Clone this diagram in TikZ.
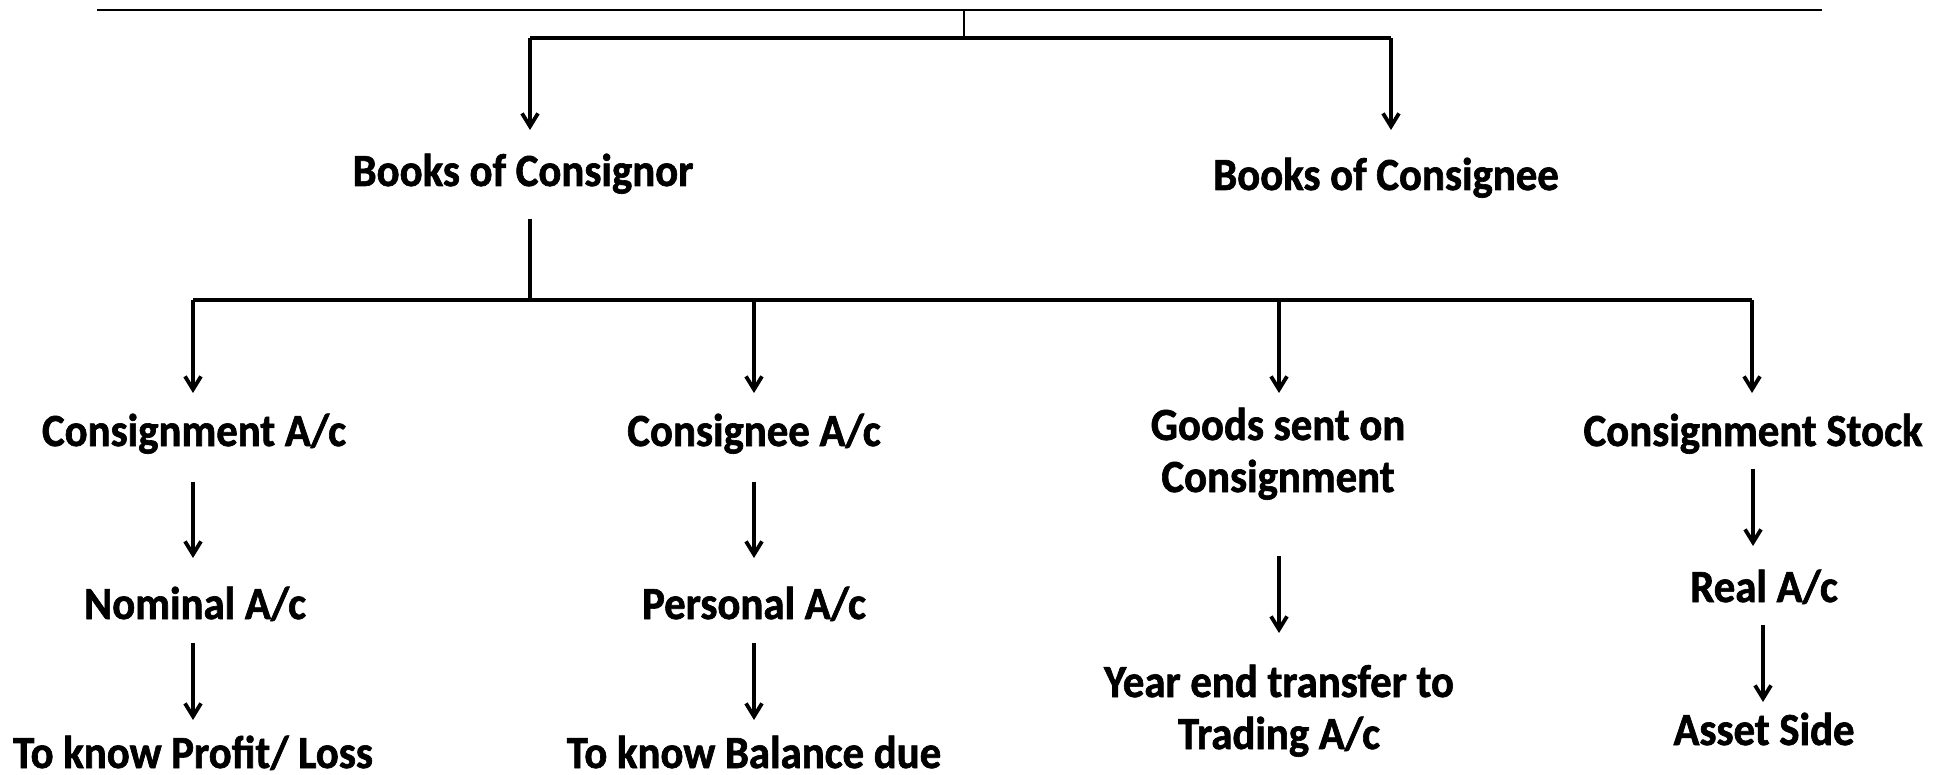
\documentclass[tikz,border=0pt]{standalone}
\usepackage{fontspec}
\setmainfont{Carlito}[FakeStretch=0.93,FakeBold=1.4]
\usetikzlibrary{arrows.meta,calc}
\tikzset{
  lbl/.style={anchor=base, inner sep=0pt, font=\fontsize{23pt}{26pt}\selectfont\bfseries},
  arr/.style={line width=1.9pt, -{Straight Barb[length=6.5pt,width=8pt,line width=1.9pt]}},
  bar/.style={line width=2.4pt},
  hair/.style={line width=0.8pt}
}
\newcommand\twolines[1]{\begin{tabular}[t]{@{}c@{}}#1\end{tabular}}
\begin{document}
\begin{tikzpicture}[x=0.5pt,y=-0.5pt]
\useasboundingbox (0,0) rectangle (1948,775);

% labels
\node[lbl] (consignor) at (523,186) {Books of Consignor};
\node[lbl] (consignee) at (1386,190) {Books of Consignee};
\node[lbl] (cmt)      at (194,446)  {Consignment A/c};
\node[lbl] (cee)      at (754,446)  {Consignee A/c};
\node[lbl] (goods)    at (1278,440) {\twolines{Goods sent on\\Consignment}};
\node[lbl] (stock)    at (1753,446) {Consignment Stock};
\node[lbl] (nominal)  at (195,619)  {Nominal A/c};
\node[lbl] (personal) at (754,619)  {Personal A/c};
\node[lbl] (year)     at (1279,697) {\twolines{Year end transfer to\\Trading A/c}};
\node[lbl] (real)     at (1764,602) {Real A/c};
\node[lbl] (profit)   at (193,768)  {To know Profit/ Loss};
\node[lbl] (balance)  at (754,768)  {To know Balance due};
\node[lbl] (asset)    at (1764,745) {Asset Side};

% top rule and first split
\coordinate (ruleL) at (97,10);
\coordinate (ruleR) at (1822,10);
\coordinate (stem)  at (964,10);
\coordinate (split) at (964,38);
\coordinate (splitL) at (530,38);
\coordinate (splitR) at (1391,38);
\draw[hair] (ruleL) -- (ruleR);
\draw[line width=1.1pt] (stem) -- (split);
\draw[bar] (splitL) -- (splitR);
\draw[arr] (splitL) -- (splitL |- {$(consignor.base)+(0,-56)$});
\draw[arr] (splitR) -- (splitR |- {$(consignee.base)+(0,-60)$});

% second split under the consignor
\coordinate (down) at ($(consignor.base)+(7,33)$);
\coordinate (hub)  at (530,300);
\coordinate (b1) at (193,300);
\coordinate (b2) at (754,300);
\coordinate (b3) at (1279,300);
\coordinate (b4) at (1752,300);
\draw[line width=1.9pt] (down) -- (hub);
\draw[bar] (b1) -- (b4);
\draw[arr] (b1) -- (b1 |- {$(cmt.base)+(0,-53)$});
\draw[arr] (b2) -- (b2 |- {$(cee.base)+(0,-53)$});
\draw[arr] (b3) -- (b3 |- {$(goods.base)+(0,-47)$});
\draw[arr] (b4) -- (b4 |- {$(stock.base)+(0,-53)$});

% account chains
\draw[arr] ($(cmt.base)+(-1,36)$) -- ($(nominal.base)+(-2,-61)$);
\draw[arr] ($(nominal.base)+(-2,24)$) -- ($(profit.base)+(0,-48)$);
\draw[arr] ($(cee.base)+(0,36)$) -- ($(personal.base)+(0,-61)$);
\draw[arr] ($(personal.base)+(0,24)$) -- ($(balance.base)+(0,-48)$);
\draw[arr] ($(goods.base)+(1,116)$) -- ($(year.base)+(0,-64)$);
\draw[arr] ($(stock.base)+(0,23)$) -- ($(real.base)+(-11,-56)$);
\draw[arr] ($(real.base)+(-1,23)$) -- ($(asset.base)+(-1,-43)$);
\end{tikzpicture}
\end{document}
